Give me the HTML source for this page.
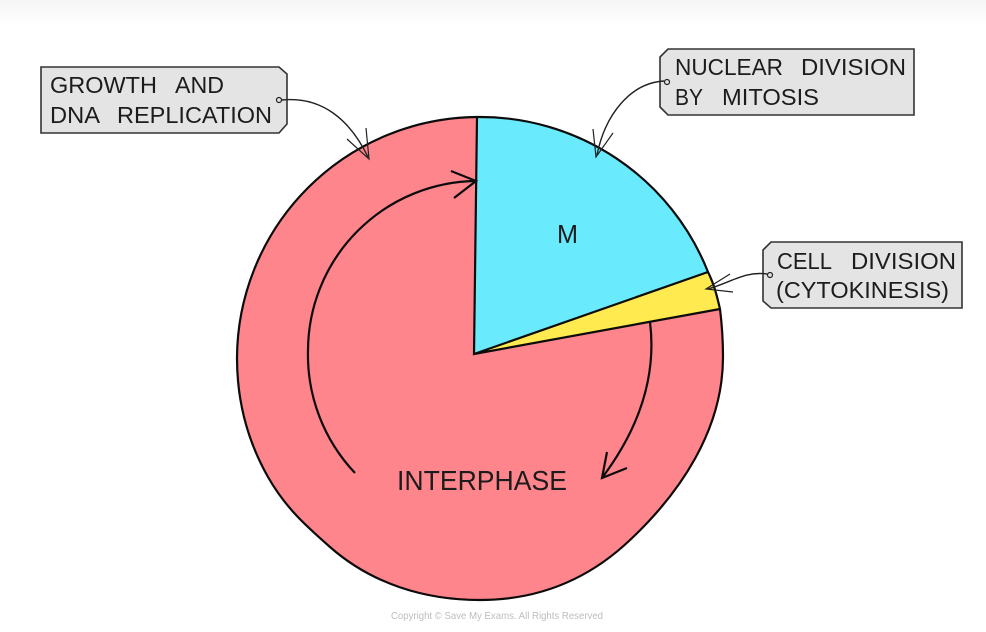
<!DOCTYPE html>
<html>
<head>
<meta charset="utf-8">
<style>
html,body{margin:0;padding:0;background:#fff;width:986px;height:632px;overflow:hidden}
svg{display:block}
text{font-family:"Liberation Sans",sans-serif;fill:#1c1c1c}
</style>
</head>
<body>
<svg width="986" height="632" viewBox="0 0 986 632" xmlns="http://www.w3.org/2000/svg">
<defs>
<linearGradient id="top" x1="0" y1="0" x2="0" y2="1"><stop offset="0" stop-color="#f6f6f6"/><stop offset="1" stop-color="#fff"/></linearGradient>
</defs>
<rect x="0" y="0" width="986" height="26" fill="url(#top)"/>

<!-- pie -->
<path d="M477 117 A242 242 0 0 0 237 358 C237 400 247 440 268 477 C285 507 305 525 330 547 C372 584 425 600 480 600 C540 600 590 578 630 540 C680 493 723 430 723 357 C723 340 722 325 720 309 L474 354 Z" fill="#ff858c"/>
<path d="M477 117 A245 245 0 0 1 708 272 L474 354 Z" fill="#6aebfd"/>
<path d="M708 272 C714 284 717 296 720 309 L474 354 Z" fill="#ffea50"/>
<path d="M477 117 A242 242 0 0 0 237 358 C237 400 247 440 268 477 C285 507 305 525 330 547 C372 584 425 600 480 600 C540 600 590 578 630 540 C680 493 723 430 723 357 C723 340 722 325 720 309 C717 296 714 284 708 272 A245 245 0 0 0 477 117 Z" fill="none" stroke="#0c0c0c" stroke-width="2.2"/>
<path d="M477 117 L474 354 L708 272 M474 354 L720 309" fill="none" stroke="#0c0c0c" stroke-width="2.2"/>

<!-- cycle arrows -->
<path d="M355 473 A172 172 0 0 1 308 350 A170 170 0 0 1 476 181" fill="none" stroke="#0c0c0c" stroke-width="2.2"/>
<path d="M451 171 L476 181 L454 198" fill="none" stroke="#0c0c0c" stroke-width="2.2"/>
<path d="M650 322 C656 370 644 422 602 478" fill="none" stroke="#0c0c0c" stroke-width="2.2"/>
<path d="M607 452 L602 478 L627 468" fill="none" stroke="#0c0c0c" stroke-width="2.2"/>

<!-- labels in chart -->
<text x="557" y="243" font-size="26" textLength="21" lengthAdjust="spacingAndGlyphs">M</text>
<text x="397" y="490" font-size="27.5" textLength="170" lengthAdjust="spacingAndGlyphs">INTERPHASE</text>

<!-- box 1 -->
<path d="M41 67 L279 67 L287 74 L287 124 L279 133 L41 133 Z" fill="#e4e4e4" stroke="#333" stroke-width="1.6"/>
<text x="50" y="93" font-size="23" textLength="107" lengthAdjust="spacingAndGlyphs">GROWTH</text>
<text x="175" y="93" font-size="23" textLength="49" lengthAdjust="spacingAndGlyphs">AND</text>
<text x="50" y="123" font-size="23" textLength="50" lengthAdjust="spacingAndGlyphs">DNA</text>
<text x="117" y="123" font-size="23" textLength="155" lengthAdjust="spacingAndGlyphs">REPLICATION</text>
<circle cx="279" cy="100" r="2.5" fill="none" stroke="#222" stroke-width="1.2"/>
<path d="M282 100 C322 96 350 120 368 157" fill="none" stroke="#222" stroke-width="1.4"/>
<path d="M347 139 L369 159 L366 128" fill="none" stroke="#222" stroke-width="1.2"/>

<!-- box 2 -->
<path d="M668 49 L914 49 L914 115 L668 115 L660 107 L660 57 Z" fill="#e4e4e4" stroke="#333" stroke-width="1.6"/>
<text x="675" y="75" font-size="23" textLength="108" lengthAdjust="spacingAndGlyphs">NUCLEAR</text>
<text x="801" y="75" font-size="23" textLength="105" lengthAdjust="spacingAndGlyphs">DIVISION</text>
<text x="675" y="105" font-size="23" textLength="28" lengthAdjust="spacingAndGlyphs">BY</text>
<text x="722" y="105" font-size="23" textLength="97" lengthAdjust="spacingAndGlyphs">MITOSIS</text>
<circle cx="667" cy="82" r="2.5" fill="none" stroke="#222" stroke-width="1.2"/>
<path d="M664 81 C630 83 605 115 597 155" fill="none" stroke="#222" stroke-width="1.4"/>
<path d="M593 129 L596 157 L613 133" fill="none" stroke="#222" stroke-width="1.2"/>

<!-- box 3 -->
<path d="M771 242 L962 242 L962 308 L771 308 L763 301 L763 250 Z" fill="#e4e4e4" stroke="#333" stroke-width="1.6"/>
<text x="777" y="269" font-size="23" textLength="55" lengthAdjust="spacingAndGlyphs">CELL</text>
<text x="851" y="269" font-size="23" textLength="105" lengthAdjust="spacingAndGlyphs">DIVISION</text>
<text x="776" y="298" font-size="23" textLength="173" lengthAdjust="spacingAndGlyphs">(CYTOKINESIS)</text>
<circle cx="770" cy="275" r="2.5" fill="none" stroke="#222" stroke-width="1.2"/>
<path d="M767 274 C745 271 732 282 708 289" fill="none" stroke="#222" stroke-width="1.4"/>
<path d="M730 274 L706 289 L733 292" fill="none" stroke="#222" stroke-width="1.2"/>

<text x="391" y="619" font-size="10.5" textLength="212" lengthAdjust="spacingAndGlyphs" style="fill:#bdbdbd">Copyright © Save My Exams. All Rights Reserved</text>
</svg>
</body>
</html>
